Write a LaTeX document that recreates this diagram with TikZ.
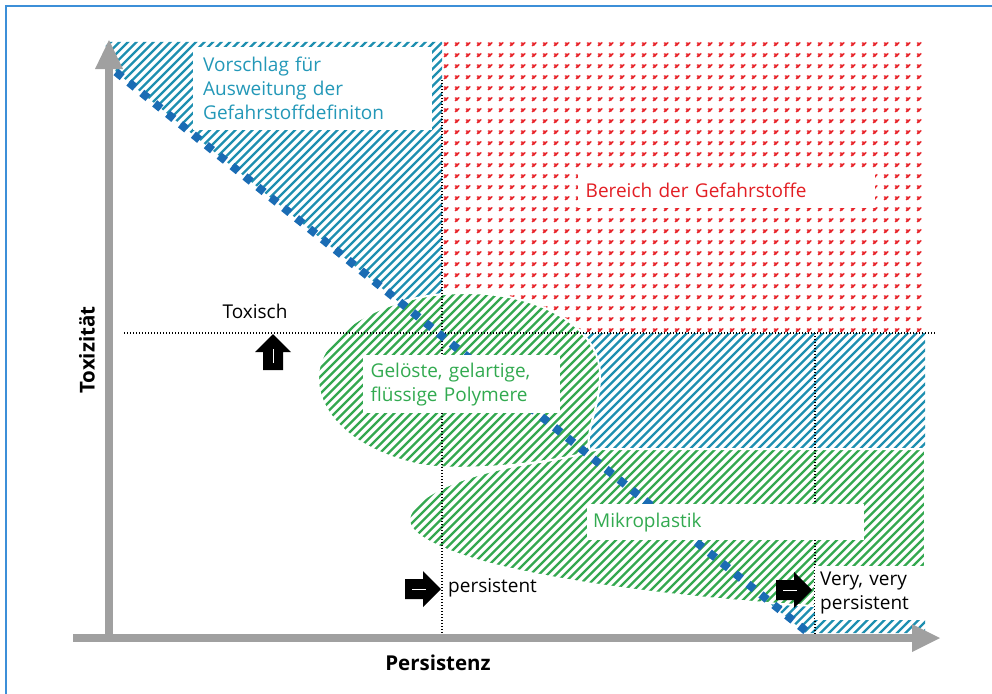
\documentclass[tikz,border=0pt]{standalone}
\usepackage{fontspec}
\setmainfont{Open Sans}
\definecolor{hatchblue}{RGB}{30,143,176}
\definecolor{hatchgreen}{RGB}{52,168,80}
\definecolor{markred}{RGB}{232,38,44}
\definecolor{dotblue}{RGB}{26,108,180}
\definecolor{axisgray}{RGB}{160,160,160}
\definecolor{tealtext}{RGB}{35,152,184}
\definecolor{redtext}{RGB}{227,30,36}
\definecolor{greentext}{RGB}{50,170,80}
\definecolor{framecol}{RGB}{60,143,216}
\tikzset{
  hatchB/.style={draw=hatchblue, line width=2.3pt},
  hatchG/.style={draw=hatchgreen, line width=2.3pt},
  redmark/.style={draw=markred, line width=1.3pt},
  dotline/.style={draw=black, line width=1.4pt, dash pattern=on 1.4pt off 1.6pt},
  diagdots/.style={draw=dotblue, line width=8pt, dash pattern=on 8pt off 8.6pt},
  axisline/.style={draw=axisgray, line width=8pt},
  lbl/.style={font=\fontsize{19pt}{24pt}\selectfont},
  axlbl/.style={font=\bfseries\fontsize{20.5pt}{24pt}\selectfont, inner sep=0pt},
  whitebox/.style={fill=white, anchor=north west, inner sep=0pt, align=left, lbl},
  blockarrow/.pic={
    \fill[black] (0,-10) -- (18,-10) -- (18,-18) -- (36,0) -- (18,18) -- (18,10) -- (0,10) -- cycle;
    \draw[white, line width=0.8pt] (7,0) -- (21,0);
  }
}
\def\gelpath{(318,380) .. controls (316,330) and (390,293) .. (465,293)
  .. controls (545,293) and (600,330) .. (600,375)
  .. controls (600,410) and (584,430) .. (590,452)
  .. controls (540,465) and (460,472) .. (420,465)
  .. controls (360,452) and (320,420) .. (318,380) -- cycle}
\def\mikpath{(410,515) .. controls (420,490) and (480,470) .. (540,462)
  .. controls (565,458) and (585,452) .. (600,449) -- (925,449) -- (925,568) -- (815,568) -- (815,606)
  .. controls (700,600) and (550,583) .. (470,558)
  .. controls (420,542) and (405,528) .. (410,515) -- cycle}
\begin{document}
\begin{tikzpicture}[x=1pt,y=-1pt]
\useasboundingbox (0,0) rectangle (992,693);
% frame
\draw[framecol, line width=1.5pt] (6,700) -- (6,6) -- (1000,6);
% blue hatched region
\begin{scope}
  \clip (104,42) -- (442,42) -- (442,333) -- (925,333) -- (925,633) -- (806,633) -- (116,72) -- cycle;
  \foreach \c in {0,8.5,...,1800} \draw[hatchB] (\c,0) -- (\c-800,800);
\end{scope}
% red marks
\foreach \i in {0,...,43} {
  \foreach \j in {0,...,26} {
    \draw[redmark] ({446+11*\i-2.2},{44+11*\j-1}) -- ++(2,0.2) -- ++(-1.6,2.8) (446+11*\i-0.6,44+11*\j+1.6) -- ++(2.8,-3.2);
  }
}
% green blobs
\fill[white] \mikpath;
\begin{scope}
  \clip \mikpath;
  \foreach \c in {0,8.5,...,1800} \draw[hatchG] (\c,0) -- (\c-800,800);
\end{scope}
\draw[white, line width=2pt] \mikpath;
\fill[white] \gelpath;
\begin{scope}
  \clip \gelpath;
  \foreach \c in {0,8.5,...,1800} \draw[hatchG] (\c,0) -- (\c-800,800);
\end{scope}
\draw[white, line width=2pt] \gelpath;
% dotted guide lines
\coordinate (hL) at (124,333);
\coordinate (hR) at (936,333);
\coordinate (v1t) at (442,80);
\coordinate (v1b) at (442,636);
\coordinate (v2t) at (815,333);
\coordinate (v2b) at (815,636);
\draw[dotline] (hL) -- (hR);
\draw[dotline] (v1t) -- (v1b);
\draw[dotline] (v2t) -- (v2b);
% diagonal
\coordinate (dA) at (116,72);
\coordinate (dB) at (806,631);
\draw[diagdots] (dA) -- (dB);
% text boxes
\node[whitebox, minimum width=239pt, minimum height=83pt, text width=219pt, text=tealtext] (vor) at (193,47)
  {Vorschlag für\\Ausweitung der\\Gefahrstoffdefiniton};
\node[whitebox, minimum width=297pt, minimum height=35pt, text width=282pt, text=redtext] (ber) at (578,173)
  {Bereich der Gefahrstoffe};
\node[whitebox, minimum width=197pt, minimum height=58pt, text width=182pt, text=greentext] (gel) at (363,355)
  {Gelöste, gelartige,\\flüssige Polymere};
\node[whitebox, minimum width=277pt, minimum height=36pt, text width=265pt, text=greentext] (mik) at (587,504)
  {Mikroplastik};
\node[whitebox, minimum width=113pt, minimum height=54pt, text width=103pt, text=black] (vvp) at (815,566)
  {Very, very\\persistent};
% axes
\coordinate (yb) at (109,638);
\coordinate (yt) at (109,66);
\coordinate (xl) at (73,638);
\coordinate (xr) at (914,638);
\draw[axisline] (yb) -- (yt);
\fill[axisgray] (95,69) -- (123,69) -- (109,40) -- cycle;
\draw[axisline] (xl) -- (xr);
\fill[axisgray] (912,624) -- (912,652) -- (940,638) -- cycle;
% labels
\node[lbl, inner sep=0pt] (tox) at (255,311) {Toxisch};
\node[lbl, inner sep=0pt, anchor=west] (pers) at (448,588) {persistent};
\node[axlbl, rotate=90] (ylab) at (87,350) {Toxizität};
\node[axlbl] (xlab) at (438,663) {Persistenz};
% block arrows
\pic at (273,370) [rotate=90] {blockarrow};
\pic at (405,589) {blockarrow};
\pic at (776,590) {blockarrow};
\end{tikzpicture}
\end{document}
